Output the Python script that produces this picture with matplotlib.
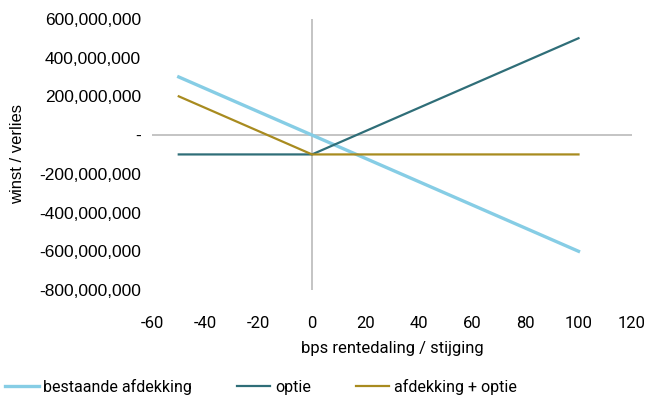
import matplotlib
matplotlib.use("Agg")
import matplotlib.pyplot as plt
from matplotlib.ticker import FuncFormatter

# bps move and P&L per strategy (in EUR)
bps = [-50, 0, 50, 100]
bestaande_afdekking = [300e6, 0, -300e6, -600e6]
optie = [-100e6, -100e6, 200e6, 500e6]
afdekking_optie = [200e6, -100e6, -100e6, -100e6]

x_ticks = [-60, -40, -20, 0, 20, 40, 60, 80, 100, 120]
y_ticks = [-800e6, -600e6, -400e6, -200e6, 0, 200e6, 400e6, 600e6]

plt.rcParams["font.family"] = ["Roboto", "DejaVu Sans"]
plt.rcParams["axes.unicode_minus"] = False

fig = plt.figure(figsize=(6.5, 3.97), dpi=100)
ax = fig.add_axes([0.234, 0.2695, 0.738, 0.683])

ax.axhline(0, color="#bfbfbf", lw=1.3, zorder=1)
ax.axvline(0, color="#bfbfbf", lw=1.3, zorder=1)

ax.plot(bps, bestaande_afdekking, color="#86cde5", lw=2.4, label="bestaande afdekking", zorder=3)
ax.plot(bps, optie, color="#2f6e78", lw=1.6, label="optie", zorder=3)
ax.plot(bps, afdekking_optie, color="#a88b1f", lw=1.6, label="afdekking + optie", zorder=3)

ax.set_xlim(-60, 120)
ax.set_ylim(-800e6, 600e6)
ax.set_xticks(x_ticks)
ax.set_yticks(y_ticks)


def fmt(v, pos):
    return "-" if v == 0 else f"{v:,.0f}"


ax.yaxis.set_major_formatter(FuncFormatter(fmt))
for s in ax.spines.values():
    s.set_visible(False)
ax.tick_params(axis="x", length=0, pad=19, labelsize=12)
ax.tick_params(axis="y", length=0, pad=8, labelsize=12.5, labelfontfamily="Liberation Sans")

ax.set_xlabel("bps rentedaling / stijging", fontsize=12, labelpad=7)
ax.set_ylabel("winst / verlies", fontsize=12, family=["Liberation Sans", "DejaVu Sans"], labelpad=10)

fig.legend(loc="lower left", bbox_to_anchor=(5 / 650, 0.005), ncol=3, frameon=False,
           borderpad=0, borderaxespad=0, fontsize=11.5, handlelength=2.1,
           handletextpad=0.3, columnspacing=2.8)

fig.savefig("out.png", dpi=100)
